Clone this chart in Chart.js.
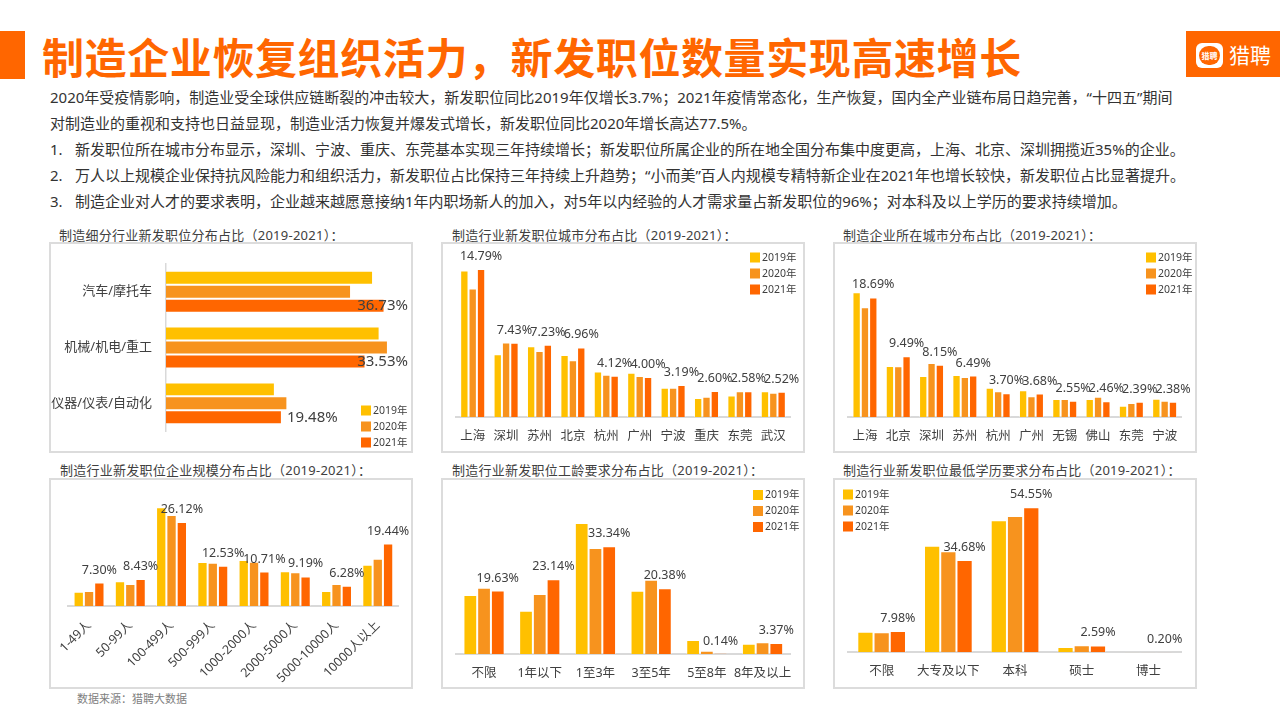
<!DOCTYPE html>
<html lang="zh">
<head>
<meta charset="UTF-8">
<title>制造企业恢复组织活力，新发职位数量实现高速增长</title>
<script src="https://cdn.jsdelivr.net/npm/chart.js"></script>
<style>
  body { margin: 0; width: 1280px; height: 720px; overflow: hidden; background: #fff;
         font-family: "Noto Sans", "Noto Sans CJK SC", sans-serif; color: #404040; position: relative; }
  .abs { position: absolute; }
  .leftbar { left: 0; top: 31px; width: 25px; height: 48px; background: #FF6600; }
  .title { left: 42px; top: 29px; font-size: 42px; line-height: 54px; font-weight: bold; color: #FF6600;
           font-family: "Noto Sans CJK SC", sans-serif; letter-spacing: 0.6px; white-space: nowrap; }
  .logo { left: 1186px; top: 31px; width: 94px; height: 46px; background: #FF6600; }
  .logo .icon { position: absolute; left: 10px; top: 12px; width: 27px; height: 25px; background: #fff; border-radius: 6px; }
  .logo .icon span { position: absolute; left: 3px; top: 3px; width: 21px; height: 19px; border-radius: 10px; background: #FF6600;
           color: #fff; font-size: 8px; line-height: 19px; text-align: center; font-weight: bold; font-family: "Noto Sans CJK SC"; }
  .logo .txt { position: absolute; left: 43px; top: 8px; color: #fff; font-size: 21px; line-height: 30px; font-family: "Noto Sans CJK SC"; }
  .line { left: 50px; font-size: 15px; line-height: 20px; color: #333; white-space: nowrap; }
  .line .n { display: inline-block; width: 25px; }
  .ptitle { font-size: 13px; line-height: 18px; color: #404040; white-space: nowrap; letter-spacing: 0.25px; }
  .box { border: 2px solid #dcdcdc; box-sizing: border-box; }
  canvas { position: absolute; }
  .src { left: 77px; top: 691px; font-size: 11px; line-height: 15px; color: #808080; }
</style>
</head>
<body>
<div class="abs leftbar"></div>
<div class="abs title">制造企业恢复组织活力，新发职位数量实现高速增长</div>
<div class="abs logo"><div class="icon"><span>猎聘</span></div><div class="txt">猎聘</div></div>

<div class="abs line" style="top:87px">2020年受疫情影响，制造业受全球供应链断裂的冲击较大，新发职位同比2019年仅增长3.7%；2021年疫情常态化，生产恢复，国内全产业链布局日趋完善，“十四五”期间</div>
<div class="abs line" style="top:113px">对制造业的重视和支持也日益显现，制造业活力恢复并爆发式增长，新发职位同比2020年增长高达77.5%。</div>
<div class="abs line" style="top:139px"><span class="n">1.</span>新发职位所在城市分布显示，深圳、宁波、重庆、东莞基本实现三年持续增长；新发职位所属企业的所在地全国分布集中度更高，上海、北京、深圳拥揽近35%的企业。</div>
<div class="abs line" style="top:165px"><span class="n">2.</span>万人以上规模企业保持抗风险能力和组织活力，新发职位占比保持三年持续上升趋势；“小而美”百人内规模专精特新企业在2021年也增长较快，新发职位占比显著提升。</div>
<div class="abs line" style="top:191px"><span class="n">3.</span>制造企业对人才的要求表明，企业越来越愿意接纳1年内职场新人的加入，对5年以内经验的人才需求量占新发职位的96%；对本科及以上学历的要求持续增加。</div>

<div class="abs ptitle" style="left:59px;top:226px">制造细分行业新发职位分布占比（2019-2021）：</div>
<div class="abs ptitle" style="left:452px;top:226px">制造行业新发职位城市分布占比（2019-2021）：</div>
<div class="abs ptitle" style="left:843px;top:226px">制造企业所在城市分布占比（2019-2021）：</div>
<div class="abs ptitle" style="left:60px;top:461px">制造行业新发职位企业规模分布占比（2019-2021）：</div>
<div class="abs ptitle" style="left:452px;top:461px">制造行业新发职位工龄要求分布占比（2019-2021）：</div>
<div class="abs ptitle" style="left:843px;top:461px">制造行业新发职位最低学历要求分布占比（2019-2021）：</div>

<div class="abs box" style="left:49px;top:242px;width:364px;height:211px"></div>
<div class="abs box" style="left:441px;top:242px;width:364px;height:211px"></div>
<div class="abs box" style="left:833px;top:242px;width:364px;height:211px"></div>
<div class="abs box" style="left:49px;top:478px;width:364px;height:211px"></div>
<div class="abs box" style="left:441px;top:478px;width:364px;height:211px"></div>
<div class="abs box" style="left:833px;top:478px;width:364px;height:211px"></div>

<canvas id="industryChart" width="364" height="211" style="left:49px;top:242px"></canvas>
<canvas id="jobCityChart" width="364" height="211" style="left:441px;top:242px"></canvas>
<canvas id="firmCityChart" width="364" height="211" style="left:833px;top:242px"></canvas>
<canvas id="sizeChart" width="364" height="211" style="left:49px;top:478px"></canvas>
<canvas id="expChart" width="364" height="211" style="left:441px;top:478px"></canvas>
<canvas id="eduChart" width="364" height="211" style="left:833px;top:478px"></canvas>

<div class="abs src">数据来源：猎聘大数据</div>

<script>
// series names and colours
const years = ['2019年', '2020年', '2021年'];
const colors = ['#FFC000', '#F7931E', '#FF6600'];

// 制造细分行业新发职位分布占比
const industryCats = ['汽车/摩托车', '机械/机电/重工', '仪器/仪表/自动化'];
const industry2019 = [34.8, 35.9, 18.3];
const industry2020 = [31.1, 37.3, 20.4];
const industry2021 = [36.73, 33.53, 19.48];

// 制造行业新发职位城市分布占比
const jobCityCats = ['上海', '深圳', '苏州', '北京', '杭州', '广州', '宁波', '重庆', '东莞', '武汉'];
const jobCity2019 = [14.65, 6.28, 7.08, 6.21, 4.55, 4.42, 2.92, 1.89, 2.15, 2.58];
const jobCity2020 = [12.86, 7.44, 6.61, 5.68, 4.22, 4.09, 2.92, 2.02, 2.58, 2.42];
const jobCity2021 = [14.79, 7.43, 7.23, 6.96, 4.12, 4.00, 3.19, 2.60, 2.58, 2.52];

// 制造企业所在城市分布占比
const firmCityCats = ['上海', '北京', '深圳', '苏州', '杭州', '广州', '无锡', '佛山', '东莞', '宁波'];
const firmCity2019 = [19.48, 7.97, 6.40, 6.56, 4.58, 4.17, 2.81, 2.81, 1.77, 2.86];
const firmCity2020 = [17.14, 7.92, 8.44, 6.25, 4.01, 3.23, 2.81, 3.18, 2.19, 2.55];
const firmCity2021 = [18.69, 9.49, 8.15, 6.49, 3.70, 3.68, 2.55, 2.46, 2.39, 2.38];

// 企业规模分布占比
const sizeCats = ['1-49人', '50-99人', '100-499人', '500-999人', '1000-2000人', '2000-5000人', '5000-10000人', '10000人以上'];
const size2019 = [4.46, 7.67, 30.7, 13.68, 14.3, 10.78, 4.66, 12.85];
const size2020 = [4.66, 6.84, 28.3, 13.47, 13.78, 10.47, 6.84, 14.7];
const size2021 = [7.30, 8.43, 26.12, 12.53, 10.71, 9.19, 6.28, 19.44];

// 工龄要求分布占比
const expCats = ['不限', '1年以下', '1至3年', '3至5年', '5至8年', '8年及以上'];
const exp2019 = [18.27, 13.4, 40.56, 19.6, 4.33, 3.19];
const exp2020 = [20.53, 18.58, 32.8, 23.0, 1.03, 3.62];
const exp2021 = [19.63, 23.14, 33.34, 20.38, 0.14, 3.37];

// 最低学历要求分布占比
const eduCats = ['不限', '大专及以下', '本科', '硕士', '博士'];
const edu2019 = [7.75, 40.1, 49.66, 2.0, 0.18];
const edu2020 = [7.52, 38.0, 51.3, 2.63, 0.2];
const edu2021 = [7.98, 34.68, 54.55, 2.59, 0.20];

Chart.defaults.font.family = '"Noto Sans", "Noto Sans CJK SC", sans-serif';
Chart.defaults.color = '#404040';

const FONT = '"Noto Sans", "Noto Sans CJK SC", sans-serif';

function series(a, b, c) {
    return [a, b, c].map((d, i) => ({
        label: years[i],
        data: d,
        backgroundColor: colors[i],
        borderColor: 'rgba(255,255,255,0.45)',
        borderWidth: 1
    }));
}

// 2021 value labels
const valueLabels = {
    id: 'valueLabels',
    afterDatasetsDraw(chart) {
        const ctx = chart.ctx;
        const meta = chart.getDatasetMeta(2);
        const data = chart.data.datasets[2].data;
        const horiz = chart.options.indexAxis === 'y';
        ctx.save();
        ctx.fillStyle = '#404040';
        ctx.textBaseline = 'middle';
        ctx.font = (horiz ? '15px ' : '12.5px ') + FONT;
        meta.data.forEach((el, i) => {
            const t = data[i].toFixed(2) + '%';
            if (horiz) {
                const w = ctx.measureText(t).width;
                const x = Math.min(el.x + 5, chart.width - 5 - w);
                ctx.textAlign = 'left';
                ctx.fillText(t, x, el.y);
            } else {
                ctx.textAlign = 'center';
                ctx.fillText(t, el.x, el.y - 12.5);
            }
        });
        ctx.restore();
    }
};

// small stacked legend at a fixed spot
function boxLegend(pos) {
    return {
        id: 'boxLegend',
        afterDraw(chart) {
            if (!pos) return;
            const ctx = chart.ctx;
            ctx.save();
            ctx.font = '10.5px ' + FONT;
            ctx.textBaseline = 'middle';
            ctx.textAlign = 'left';
            chart.data.datasets.forEach((ds, i) => {
                const y = pos.y + i * 16;
                ctx.fillStyle = ds.backgroundColor;
                ctx.fillRect(pos.x, y - 5, 10, 10);
                ctx.fillStyle = '#404040';
                ctx.fillText(ds.label, pos.x + 12, y + 0.5);
            });
            ctx.restore();
        }
    };
}

function makeVBar(id, cats, s19, s20, s21, cfg) {
    return new Chart(document.getElementById(id), {
        type: 'bar',
        data: { labels: cats, datasets: series(s19, s20, s21) },
        options: {
            responsive: false,
            animation: false,
            layout: { padding: { left: cfg.padL, right: cfg.padR, top: cfg.padT, bottom: 0 } },
            datasets: { bar: { categoryPercentage: cfg.catPct, barPercentage: 1 } },
            plugins: { legend: { display: false }, tooltip: { enabled: false } },
            scales: {
                x: {
                    grid: { display: false, drawTicks: false },
                    border: { color: '#d9d9d9', width: 2 },
                    ticks: {
                        color: '#404040', font: { size: 12.5 }, padding: cfg.tickPad,
                        autoSkip: false, maxRotation: cfg.rot, minRotation: cfg.rot
                    },
                    afterFit: s => { s.height = cfg.axisH; }
                },
                y: { display: false, min: 0, max: cfg.max }
            }
        },
        plugins: [valueLabels, boxLegend(cfg.legend)]
    });
}

// 1. horizontal bars
new Chart(document.getElementById('industryChart'), {
    type: 'bar',
    data: { labels: industryCats, datasets: series(industry2019, industry2020, industry2021) },
    options: {
        indexAxis: 'y',
        responsive: false,
        animation: false,
        layout: { padding: { left: 0, right: 9, top: 15, bottom: 14 } },
        datasets: { bar: { categoryPercentage: 0.75, barPercentage: 1 } },
        plugins: { legend: { display: false }, tooltip: { enabled: false } },
        scales: {
            x: { display: false, min: 0, max: 40 },
            y: {
                grid: { display: false, drawTicks: false },
                border: { color: '#d9d9d9', width: 1.5 },
                ticks: { color: '#404040', font: { size: 13 }, padding: 14 },
                afterFit: s => { s.width = 117; }
            }
        }
    },
    plugins: [valueLabels, boxLegend({ x: 312, y: 168.5 })]
});

// 2-6. vertical bars
makeVBar('jobCityChart', jobCityCats, jobCity2019, jobCity2020, jobCity2021,
    { padL: 15, padR: 15, padT: 15, axisH: 36, max: 16, catPct: 0.75, tickPad: 12, rot: 0, legend: { x: 309, y: 15.5 } });
makeVBar('firmCityChart', firmCityCats, firmCity2019, firmCity2020, firmCity2021,
    { padL: 15.3, padR: 15.7, padT: 15, axisH: 36, max: 25, catPct: 0.75, tickPad: 12, rot: 0, legend: { x: 313, y: 15.5 } });
makeVBar('sizeChart', sizeCats, size2019, size2020, size2021,
    { padL: 19, padR: 14.6, padT: 15.4, axisH: 83, max: 35, catPct: 0.75, tickPad: 12, rot: 45, legend: null });
makeVBar('expChart', expCats, exp2019, exp2020, exp2021,
    { padL: 15.2, padR: 14.6, padT: 30.6, axisH: 35, max: 45, catPct: 0.74, tickPad: 12, rot: 0, legend: { x: 312, y: 17 } });
makeVBar('eduChart', eduCats, edu2019, edu2020, edu2021,
    { padL: 15.3, padR: 15.2, padT: 14.8, axisH: 36.7, max: 60, catPct: 0.73, tickPad: 12, rot: 0, legend: { x: 10, y: 16.5 } });
</script>
</body>
</html>
